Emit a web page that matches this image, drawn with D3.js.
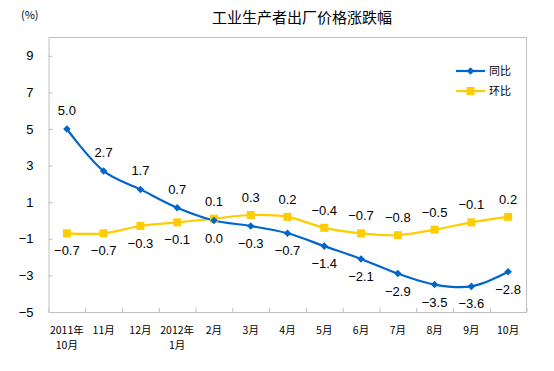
<!DOCTYPE html>
<html>
<head>
<meta charset="utf-8">
<script src="https://cdn.jsdelivr.net/npm/d3@7"></script>
<style>
	body { margin: 0; background: #fff; }
	text { font-family: Arial, "Liberation Sans", "Noto Sans CJK SC", sans-serif; fill: #000; }
	.cjk { font-family: "Noto Sans CJK SC", sans-serif; }
</style>
</head>
<body>
<div id="chart"></div>
<script>
var months = [['2011年', '10月'], ['11月'], ['12月'], ['2012年', '1月'], ['2月'], ['3月'], ['4月'], ['5月'], ['6月'], ['7月'], ['8月'], ['9月'], ['10月']];
var yoy = [5.0, 2.7, 1.7, 0.7, 0.0, -0.3, -0.7, -1.4, -2.1, -2.9, -3.5, -3.6, -2.8];
var mom = [-0.7, -0.7, -0.3, -0.1, 0.1, 0.3, 0.2, -0.4, -0.7, -0.8, -0.5, -0.1, 0.2];
var yTicks = [-5, -3, -1, 1, 3, 5, 7, 9];

var width = 554, height = 371;
var padding = { top: 37.5, right: 27.5, bottom: 59, left: 48.5 };
var w = width - padding.left - padding.right;
var h = height - padding.top - padding.bottom;
var blue = '#0066cc', yellow = '#ffcc00', grey = '#bfbfbf';

var svg = d3.select('#chart').append('svg')
	.attr('width', width)
	.attr('height', height);

var x = d3.scaleBand().domain(d3.range(months.length)).range([0, w]);
var xEdge = d3.scaleLinear().domain([0, months.length]).range([0, w]);
var y = d3.scaleLinear().domain([-5, 10]).range([h, 0]);
var cx = function (i) { return x(i) + x.bandwidth() / 2; };

var g = svg.append('g')
	.attr('transform', 'translate(' + padding.left + ',' + padding.top + ')');

// plot frame (top and right)
g.append('path')
	.attr('d', 'M0,0H' + w + 'V' + h)
	.attr('fill', 'none')
	.attr('stroke', grey);

// y axis
var yAxis = g.append('g')
	.call(d3.axisLeft(y).tickValues(yTicks).tickSizeInner(-4).tickSizeOuter(0).tickPadding(15));
yAxis.selectAll('path, line').attr('stroke', grey);
yAxis.selectAll('text').attr('font-size', 13).attr('font-family', 'Arial, "Liberation Sans", sans-serif');

// x axis
var xAxis = g.append('g')
	.attr('transform', 'translate(0,' + h + ')')
	.call(d3.axisBottom(xEdge).ticks(months.length).tickFormat('').tickSizeInner(-4).tickSizeOuter(0));
xAxis.selectAll('path, line').attr('stroke', grey);

// category labels, one text per line
months.forEach(function (m, i) {
	m.forEach(function (part, j) {
		g.append('text')
			.attr('class', 'cjk')
			.attr('font-size', 10.5)
			.attr('text-anchor', 'middle')
			.attr('x', cx(i))
			.attr('y', h + 22 + j * 15)
			.text(part);
	});
});

// lines
var line = d3.line()
	.x(function (d, i) { return cx(i); })
	.y(function (d) { return y(d); })
	.curve(d3.curveCatmullRom.alpha(0.5));

g.append('path').datum(mom)
	.attr('d', line).attr('fill', 'none').attr('stroke', yellow).attr('stroke-width', 2.2);
g.append('path').datum(yoy)
	.attr('d', line).attr('fill', 'none').attr('stroke', blue).attr('stroke-width', 2.2);

// markers
g.selectAll('.sq').data(mom).enter().append('rect')
	.attr('x', function (d, i) { return cx(i) - 4; })
	.attr('y', function (d) { return y(d) - 4; })
	.attr('width', 8).attr('height', 8)
	.attr('fill', yellow);

g.selectAll('.dm').data(yoy).enter().append('path')
	.attr('d', d3.symbol().type(d3.symbolDiamond2).size(36))
	.attr('transform', function (d, i) { return 'translate(' + cx(i) + ',' + y(d) + ')'; })
	.attr('fill', blue);

// data labels: label above for the higher series, below for the lower one
g.selectAll('.lb1').data(yoy).enter().append('text')
	.attr('font-size', 13)
	.attr('text-anchor', 'middle')
	.attr('x', function (d, i) { return cx(i); })
	.attr('y', function (d, i) { return y(d) + (d > mom[i] ? -14 : 22); })
	.text(function (d) { return d3.format('.1f')(d); });

g.selectAll('.lb2').data(mom).enter().append('text')
	.attr('font-size', 13)
	.attr('text-anchor', 'middle')
	.attr('x', function (d, i) { return cx(i); })
	.attr('y', function (d, i) { return y(d) + (d > yoy[i] ? -13 : 22); })
	.text(function (d) { return d3.format('.1f')(d); });

// legend
var legend = svg.append('g').attr('transform', 'translate(456,0)');
[['同比', blue, 71], ['环比', yellow, 91]].forEach(function (item, k) {
	var row = legend.append('g').attr('transform', 'translate(0,' + item[2] + ')');
	row.append('line').attr('x1', 0).attr('x2', 29).attr('stroke', item[1]).attr('stroke-width', 2.2);
	if (k === 0) {
		row.append('path').attr('d', d3.symbol().type(d3.symbolDiamond2).size(36))
			.attr('transform', 'translate(14.5,0)').attr('fill', item[1]);
	} else {
		row.append('rect').attr('x', 10.5).attr('y', -4).attr('width', 8).attr('height', 8).attr('fill', item[1]);
	}
	row.append('text').attr('class', 'cjk').attr('x', 33).attr('y', 4).attr('font-size', 11).text(item[0]);
});

// titles
svg.append('text')
	.attr('class', 'cjk')
	.attr('x', 302).attr('y', 23)
	.attr('text-anchor', 'middle')
	.attr('font-size', 15)
	.text('工业生产者出厂价格涨跌幅');

svg.append('text')
	.attr('class', 'cjk')
	.attr('x', 21).attr('y', 19)
	.attr('font-size', 11)
	.text('(%)');
</script>
</body>
</html>
